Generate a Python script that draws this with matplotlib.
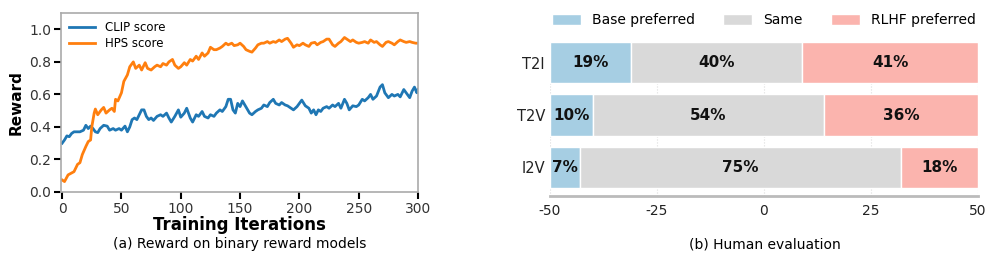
import numpy as np
import matplotlib
matplotlib.use("Agg")
import matplotlib.pyplot as plt

plt.rcParams["axes.unicode_minus"] = False

# ---- (a) reward curves ----
hps_iter = [0, 2, 5, 10, 13, 15, 17, 20, 22, 24, 25, 27, 28, 30, 33, 35, 37, 40, 42, 44,
            45, 47, 50, 52, 55, 57, 60, 62, 65, 67, 70, 72, 75, 78, 80, 83, 85, 88, 90, 93,
            95, 98, 100, 103, 105, 108, 110, 113, 115, 118, 120, 123, 125, 128, 130, 133,
            135, 138, 140, 143, 145, 148, 150, 153, 155, 158, 160, 163, 165, 168, 170, 173,
            175, 178, 180, 183, 185, 188, 190, 193, 195, 198, 200, 203, 205, 208, 210, 213,
            215, 218, 220, 223, 225, 228, 230, 233, 235, 238, 240, 243, 245, 248, 250, 253,
            255, 258, 260, 263, 265, 268, 270, 273, 275, 278, 280, 283, 285, 288, 290, 293,
            295, 298, 300]
hps_score = [0.074, 0.064, 0.105, 0.125, 0.17, 0.18, 0.23, 0.28, 0.31, 0.32, 0.40, 0.485,
             0.51, 0.475, 0.505, 0.52, 0.485, 0.505, 0.515, 0.495, 0.57, 0.56, 0.61, 0.68,
             0.72, 0.77, 0.80, 0.76, 0.78, 0.75, 0.795, 0.76, 0.75, 0.77, 0.78, 0.77, 0.79,
             0.78, 0.80, 0.815, 0.78, 0.76, 0.77, 0.795, 0.78, 0.815, 0.805, 0.835, 0.815,
             0.855, 0.835, 0.855, 0.89, 0.875, 0.875, 0.885, 0.895, 0.915, 0.905, 0.915,
             0.90, 0.905, 0.915, 0.895, 0.875, 0.865, 0.86, 0.885, 0.905, 0.915, 0.915,
             0.925, 0.915, 0.925, 0.92, 0.935, 0.925, 0.94, 0.945, 0.915, 0.89, 0.905, 0.90,
             0.915, 0.905, 0.895, 0.915, 0.92, 0.905, 0.92, 0.925, 0.94, 0.94, 0.905, 0.895,
             0.915, 0.925, 0.95, 0.94, 0.925, 0.935, 0.92, 0.915, 0.92, 0.925, 0.915, 0.935,
             0.92, 0.925, 0.905, 0.895, 0.92, 0.925, 0.915, 0.905, 0.925, 0.935, 0.925, 0.92,
             0.925, 0.92, 0.915, 0.915]

clip_iter = [0, 2, 4, 6, 8, 10, 13, 15, 18, 20, 22, 24, 26, 28, 30, 32, 35, 38, 40, 43,
             45, 48, 50, 53, 55, 57, 59, 61, 63, 65, 67, 69, 71, 73, 75, 77, 80, 83, 85, 88,
             90, 92, 95, 98, 100, 103, 105, 108, 110, 113, 115, 118, 120, 123, 125, 128, 130,
             133, 135, 138, 140, 142, 144, 146, 148, 150, 152, 154, 156, 158, 160, 163, 165,
             168, 170, 173, 175, 178, 180, 183, 185, 188, 190, 193, 195, 198, 200, 202, 205,
             208, 210, 212, 214, 216, 218, 220, 223, 225, 228, 230, 233, 235, 238, 240, 242,
             245, 248, 250, 253, 255, 258, 260, 262, 265, 268, 270, 272, 275, 278, 280, 283,
             285, 288, 290, 293, 295, 297, 299, 300]
clip_score = [0.30, 0.32, 0.345, 0.34, 0.36, 0.37, 0.37, 0.37, 0.38, 0.41, 0.39, 0.405, 0.39,
              0.37, 0.365, 0.39, 0.41, 0.405, 0.38, 0.39, 0.38, 0.39, 0.38, 0.405, 0.37, 0.40,
              0.445, 0.455, 0.445, 0.475, 0.505, 0.505, 0.465, 0.445, 0.455, 0.44, 0.465,
              0.475, 0.465, 0.485, 0.455, 0.43, 0.465, 0.505, 0.46, 0.485, 0.515, 0.455, 0.43,
              0.475, 0.465, 0.495, 0.465, 0.455, 0.475, 0.465, 0.485, 0.505, 0.495, 0.525,
              0.57, 0.57, 0.505, 0.485, 0.545, 0.525, 0.56, 0.535, 0.51, 0.485, 0.475, 0.495,
              0.505, 0.515, 0.535, 0.525, 0.55, 0.57, 0.545, 0.535, 0.55, 0.535, 0.53, 0.515,
              0.505, 0.525, 0.545, 0.565, 0.53, 0.515, 0.485, 0.505, 0.475, 0.505, 0.495,
              0.515, 0.525, 0.515, 0.535, 0.525, 0.545, 0.515, 0.57, 0.545, 0.505, 0.53,
              0.525, 0.535, 0.57, 0.56, 0.58, 0.60, 0.57, 0.59, 0.645, 0.66, 0.61, 0.58, 0.60,
              0.59, 0.60, 0.585, 0.63, 0.61, 0.58, 0.62, 0.645, 0.61, 0.63]

# ---- (b) human evaluation ----
tasks = ["T2I", "T2V", "I2V"]
base_pref = [19, 10, 7]
same = [40, 54, 75]
rlhf_pref = [41, 36, 18]

fig = plt.figure(figsize=(9.96, 2.57), dpi=100)

# left panel
ax1 = fig.add_axes([0.0612, 0.253, 0.3585, 0.696])
ax1.plot(clip_iter, clip_score, color="#1f77b4", lw=2, label="CLIP score")
ax1.plot(hps_iter, hps_score, color="#ff7f0e", lw=2, label="HPS score")
ax1.set_xlim(-1, 300)
ax1.set_ylim(0, 1.1)
ax1.set_xticks([0, 50, 100, 150, 200, 250, 300])
ax1.set_yticks([0.0, 0.2, 0.4, 0.6, 0.8, 1.0])
ax1.tick_params(direction="out", length=5, width=1.5, color="black",
                labelsize=10, labelcolor="#333333", pad=2)
for s in ax1.spines.values():
    s.set_color("#aaaaaa")
    s.set_linewidth(1.2)
ax1.set_xlabel("Training Iterations", fontsize=12, fontweight="bold", labelpad=0)
ax1.set_ylabel("Reward", fontsize=11, fontweight="bold", labelpad=4)
ax1.legend(loc="upper left", frameon=False, fontsize=8.5, handlelength=2.2,
           borderaxespad=0.3, labelspacing=0.2, bbox_to_anchor=(0.0, 1.0))
fig.text(0.241, 0.05, "(a) Reward on binary reward models", ha="center",
         va="center", fontsize=10)

# right panel
ax2 = fig.add_axes([0.552, 0.237, 0.43, 0.6])
ypos = np.arange(len(tasks))[::-1]
left0 = -50
b_left = [left0] * len(tasks)
s_left = [left0 + b for b in base_pref]
r_left = [left0 + b + s for b, s in zip(base_pref, same)]
colors = ["#a6cee3", "#d9d9d9", "#fbb4ae"]
names = ["Base preferred", "Same", "RLHF preferred"]
for vals, lefts, c, nm in zip([base_pref, same, rlhf_pref], [b_left, s_left, r_left],
                             colors, names):
    ax2.barh(ypos, vals, left=lefts, height=0.79, color=c,
             edgecolor="white", linewidth=1, label=nm)
    for y, v, l in zip(ypos, vals, lefts):
        ax2.text(l + v / 2, y, f"{v}%", ha="center", va="center",
                 fontsize=11, fontweight="bold", color="#111111")
ax2.set_xlim(-50, 50)
ax2.set_ylim(-0.55, 2.4)
ax2.set_yticks(ypos)
ax2.set_yticklabels(tasks)
ax2.set_xticks([-50, -25, 0, 25, 50])
ax2.tick_params(axis="both", length=0, labelsize=10.5, labelcolor="#222222")
ax2.tick_params(axis="x", pad=6, labelsize=10)
ax2.xaxis.grid(True, linestyle=":", color="#dddddd", lw=0.8)
ax2.set_axisbelow(True)
for k in ["top", "right", "left"]:
    ax2.spines[k].set_visible(False)
ax2.spines["bottom"].set_color("#bbbbbb")
ax2.spines["bottom"].set_linewidth(2)
ax2.legend(loc="lower center", bbox_to_anchor=(0.5, 1.06), ncol=3, frameon=False,
           fontsize=10, handlelength=2.1, handleheight=0.9, columnspacing=2.0,
           handletextpad=0.8, borderaxespad=0)
fig.text(0.768, 0.05, "(b) Human evaluation", ha="center", va="center", fontsize=10)

fig.savefig("out.png", dpi=100)
